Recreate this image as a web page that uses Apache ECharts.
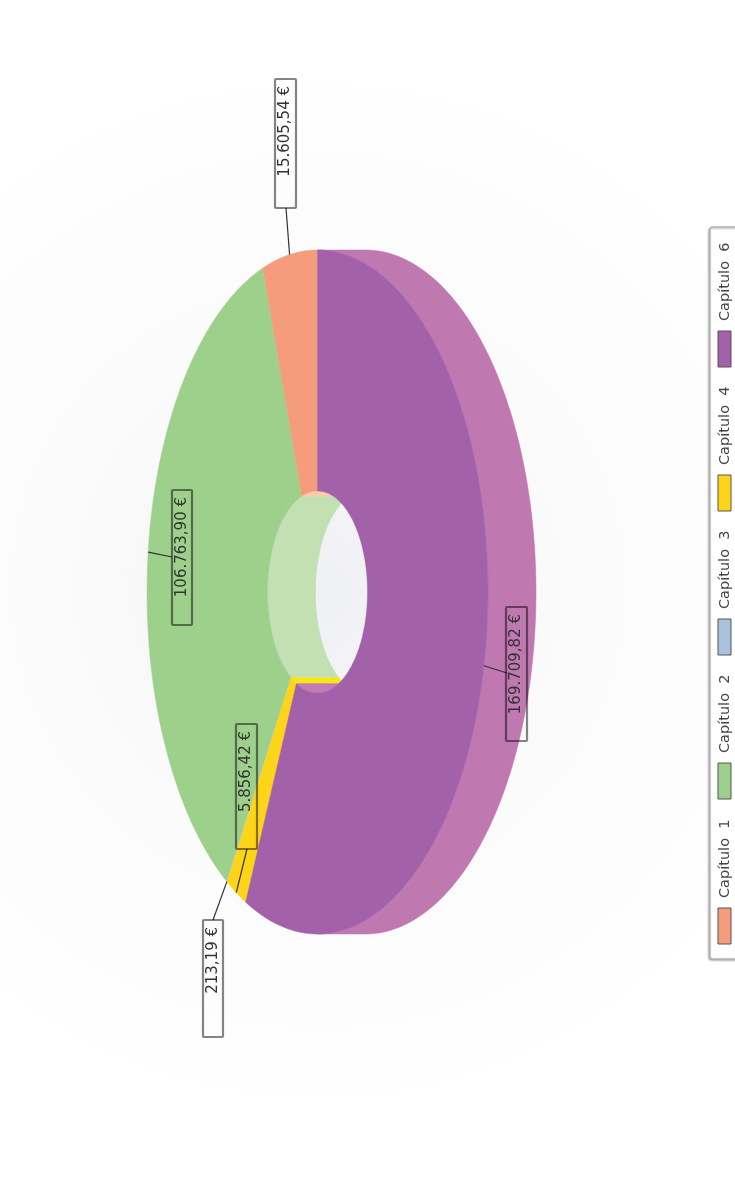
<!DOCTYPE html>
<html><head><meta charset="utf-8">
<style>html,body{margin:0;padding:0;background:#fff}#c{width:735px;height:1198px;filter:blur(.4px)}</style>
<script src="https://cdn.jsdelivr.net/npm/echarts@6/dist/echarts.min.js"></script>
</head><body><div id="c"></div>
<script>
// Data
const categories = ['Capítulo  1','Capítulo  2','Capítulo  3','Capítulo  4','Capítulo  6'];
const values = [15605.54, 106763.90, 213.19, 5856.42, 169709.82];
const colors = ['#f59c7c','#9dd08b','#aac1de','#fdd518','#a261a8'];
const wallColors = ['#f9cda8','#c3e0b2','#d5e0ee','#f6e612','#c27bb2'];
const sideColors = ['#f8b9a0','#bfe0b0','#c6d6ea','#fde060','#bf78b0'];

// Layout
const C = {cx:317.5, cy:592, rx:170.5, ry:342, hx:50, hy:101, depth:48};
const labelBoxes = [[275,79,21,129],[172,490,20,135],[203,920,20,117],[236,724,21,125],[506,607,21,134]];
const labelAttach = [[286,208],[172,557],[213,920],[247,849],[507,673]];
const legendItems = [[908,36],[763,36],[619,36],[475,36],[331,36]];

const total = values.reduce((a,b)=>a+b,0);
// slices run clockwise from 12 o'clock, last category first
const ranges = new Array(values.length);
let acc = 0;
for (let i = values.length-1; i >= 0; i--) {
  const a0 = acc; acc += values[i]/total*360; ranges[i] = [a0, acc];
}
const rad = d => d*Math.PI/180;
const ell = (a,rx,ry,dx=0) => [C.cx+dx+rx*Math.sin(rad(a)), C.cy-ry*Math.cos(rad(a))];
const steps = (a0,a1) => { const n=Math.max(2,Math.ceil((a1-a0)/1)), o=[]; for(let k=0;k<=n;k++)o.push(a0+(a1-a0)*k/n); return o; };
const fmt = v => { const [i,d]=v.toFixed(2).split('.'); return i.replace(/\B(?=(\d{3})+$)/g,'.')+','+d+' €'; };

function sideItem(p){
  const r=ranges[p.dataIndex], a0=Math.max(r[0],0), a1=Math.min(r[1],180);
  if(a1<=a0) return {type:'group',children:[]};
  const s=steps(a0,a1);
  const pts=s.map(a=>ell(a,C.rx,C.ry)).concat(s.slice().reverse().map(a=>ell(a,C.rx,C.ry,C.depth)));
  const col=sideColors[p.dataIndex];
  return {type:'polygon',shape:{points:pts},style:{fill:col,stroke:col,lineWidth:.5}};
}
function wallItem(p){
  const r=ranges[p.dataIndex], a0=Math.max(r[0],180), a1=Math.min(r[1],360);
  if(a1<=a0) return {type:'group',children:[]};
  const s=steps(a0,a1);
  const left=s.map(a=>ell(a,C.hx,C.hy));
  const right=s.slice().reverse().map(a=>{
    const q=ell(a,C.hx,C.hy), xr=C.cx+(C.cx-q[0]);
    return [Math.min(q[0]+C.depth,xr),q[1]];
  });
  const col=wallColors[p.dataIndex];
  return {type:'polygon',shape:{points:left.concat(right)},style:{fill:col,stroke:col,lineWidth:.4}};
}
function topItem(p){
  const r=ranges[p.dataIndex], s=steps(r[0],r[1]);
  const pts=s.map(a=>ell(a,C.rx,C.ry)).concat(s.slice().reverse().map(a=>ell(a,C.hx,C.hy)));
  const col=colors[p.dataIndex];
  return {type:'polygon',shape:{points:pts},style:{fill:col,stroke:col,lineWidth:.5}};
}
function labelItem(p,api){
  const i=p.dataIndex, r=ranges[i], mid=(r[0]+r[1])/2, b=labelBoxes[i];
  const e=ell(mid,C.rx,C.ry), t=labelAttach[i];
  return {type:'group',children:[
    {type:'line',shape:{x1:e[0],y1:e[1],x2:t[0],y2:t[1]},style:{stroke:'#333',lineWidth:1.2}},
    {type:'rect',shape:{x:b[0],y:b[1],width:b[2],height:b[3],r:1},style:{fill:'rgba(255,255,255,0)',stroke:'rgba(0,0,0,.48)',lineWidth:2.2}},
    {type:'text',x:b[0]+b[2]/2,y:b[1]+7,rotation:Math.PI/2,
      style:{text:fmt(api.value(0)),fill:'#333',font:'15px "DejaVu Sans"',align:'right',verticalAlign:'middle'}}
  ]};
}
function legendItem(p){
  const i=p.dataIndex, it=legendItems[i];
  return {type:'group',children:[
    {type:'rect',shape:{x:718,y:it[0],width:13,height:it[1]},style:{fill:colors[i],stroke:'#555',lineWidth:1}},
    {type:'text',x:725,y:it[0]-10,rotation:Math.PI/2,
      style:{text:categories[i],fill:'#444',font:'14.5px "DejaVu Sans"',align:'left',verticalAlign:'middle'}}
  ]};
}
function legendBox(){
  return {type:'rect',shape:{x:710,y:227,width:60,height:732,r:3},
    style:{fill:'#fff',stroke:'#b5b5b5',lineWidth:1.5,shadowBlur:2,shadowColor:'rgba(0,0,0,.3)',shadowOffsetX:-1,shadowOffsetY:1}};
}
const base = (fn,z,data) => ({type:'custom',coordinateSystem:'none',renderItem:fn,z:z,silent:true,
  animation:false,clip:false,data:data||values.map(v=>[v])});

const chart = echarts.init(document.getElementById('c'),null,{renderer:'canvas'});
chart.setOption({
  animation:false,
  backgroundColor:{type:'radial',x:0.432,y:0.494,r:0.75,colorStops:[
    {offset:0,color:'#eff0f4'},{offset:.18,color:'#f4f4f7'},{offset:.4,color:'#fafafa'},{offset:.75,color:'#fdfdfd'},{offset:1,color:'#ffffff'}]},
  series:[
    base(sideItem,1),
    base(wallItem,2),
    base(topItem,3),
    base(labelItem,4),
    base(legendBox,5,[[1]]),
    base(legendItem,6)
  ]
});
</script></body></html>
